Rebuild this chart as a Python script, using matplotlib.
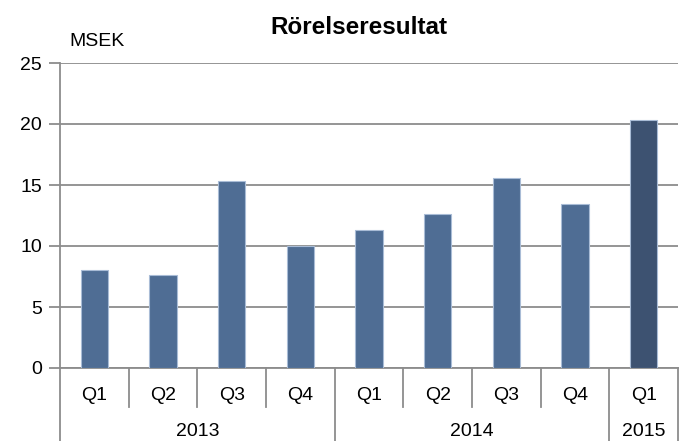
import matplotlib
matplotlib.use("Agg")
import matplotlib.pyplot as plt
from matplotlib.transforms import blended_transform_factory

quarters = ["Q1", "Q2", "Q3", "Q4", "Q1", "Q2", "Q3", "Q4", "Q1"]
years = ["2013", "2014", "2015"]
year_counts = [4, 4, 1]
values = [8.0, 7.65, 15.35, 10.0, 11.35, 12.65, 15.55, 13.45, 20.3]
yticks = [0, 5, 10, 15, 20, 25]

plt.rcParams['font.family'] = ['Liberation Sans', 'DejaVu Sans']

W, H = 683, 441
fig = plt.figure(figsize=(W / 100, H / 100), dpi=100)
x0, x1, y0, y1 = 60, 678, 368, 63
ax = fig.add_axes([x0 / W, (H - y0) / H, (x1 - x0) / W, (y0 - y1) / H])

colors = ["#4F6D94"] * 8 + ["#3D5271"]
xs = list(range(len(values)))
ax.bar(xs, values, width=0.4, color=colors, edgecolor="#A9BCD6", linewidth=0.8, zorder=3)

FS = 14
ax.set_xlim(-0.5, len(values) - 0.5)
ax.set_ylim(0, 25)
ax.set_yticks(yticks)
ax.set_yticklabels([str(t) for t in yticks], fontsize=FS)
ax.yaxis.grid(True, color="#8C8C8C", linewidth=1.3, zorder=0)
ax.tick_params(axis='y', length=8, width=1.3, color="#8C8C8C", pad=5)
ax.set_xticks([])
for s in ["top", "right"]:
    ax.spines[s].set_visible(False)
ax.spines["left"].set_color("#8C8C8C")
ax.spines["left"].set_linewidth(1.3)
ax.spines["bottom"].set_color("#8C8C8C")
ax.spines["bottom"].set_linewidth(1.3)

tr = blended_transform_factory(ax.transData, ax.transAxes)
ah = y0 - y1
q_bot = -39 / ah
y_bot = -(H - y0) / ah

for i, q in enumerate(quarters):
    ax.text(i, -27 / ah, q, transform=tr, ha="center", va="center", fontsize=FS)
boundaries = [0]
for c in year_counts:
    boundaries.append(boundaries[-1] + c)
year_edges = set(b - 0.5 for b in boundaries)
for i in range(len(quarters) + 1):
    xb = i - 0.5
    bottom = y_bot if xb in year_edges else q_bot
    ax.plot([xb, xb], [0, bottom], transform=tr, color="#8C8C8C", linewidth=1.3, clip_on=False)

for yname, a, b in zip(years, boundaries[:-1], boundaries[1:]):
    ax.text((a + b - 1) / 2, -63 / ah, yname, transform=tr, ha="center", va="center", fontsize=FS)

fig.text(359 / W, 1 - 28 / H, "Rörelseresultat", ha="center", va="center", fontsize=17.5, fontweight="bold")
fig.text(69 / W, 1 - 42 / H, "MSEK", ha="left", va="center", fontsize=FS)

fig.savefig("out.png", dpi=100)
